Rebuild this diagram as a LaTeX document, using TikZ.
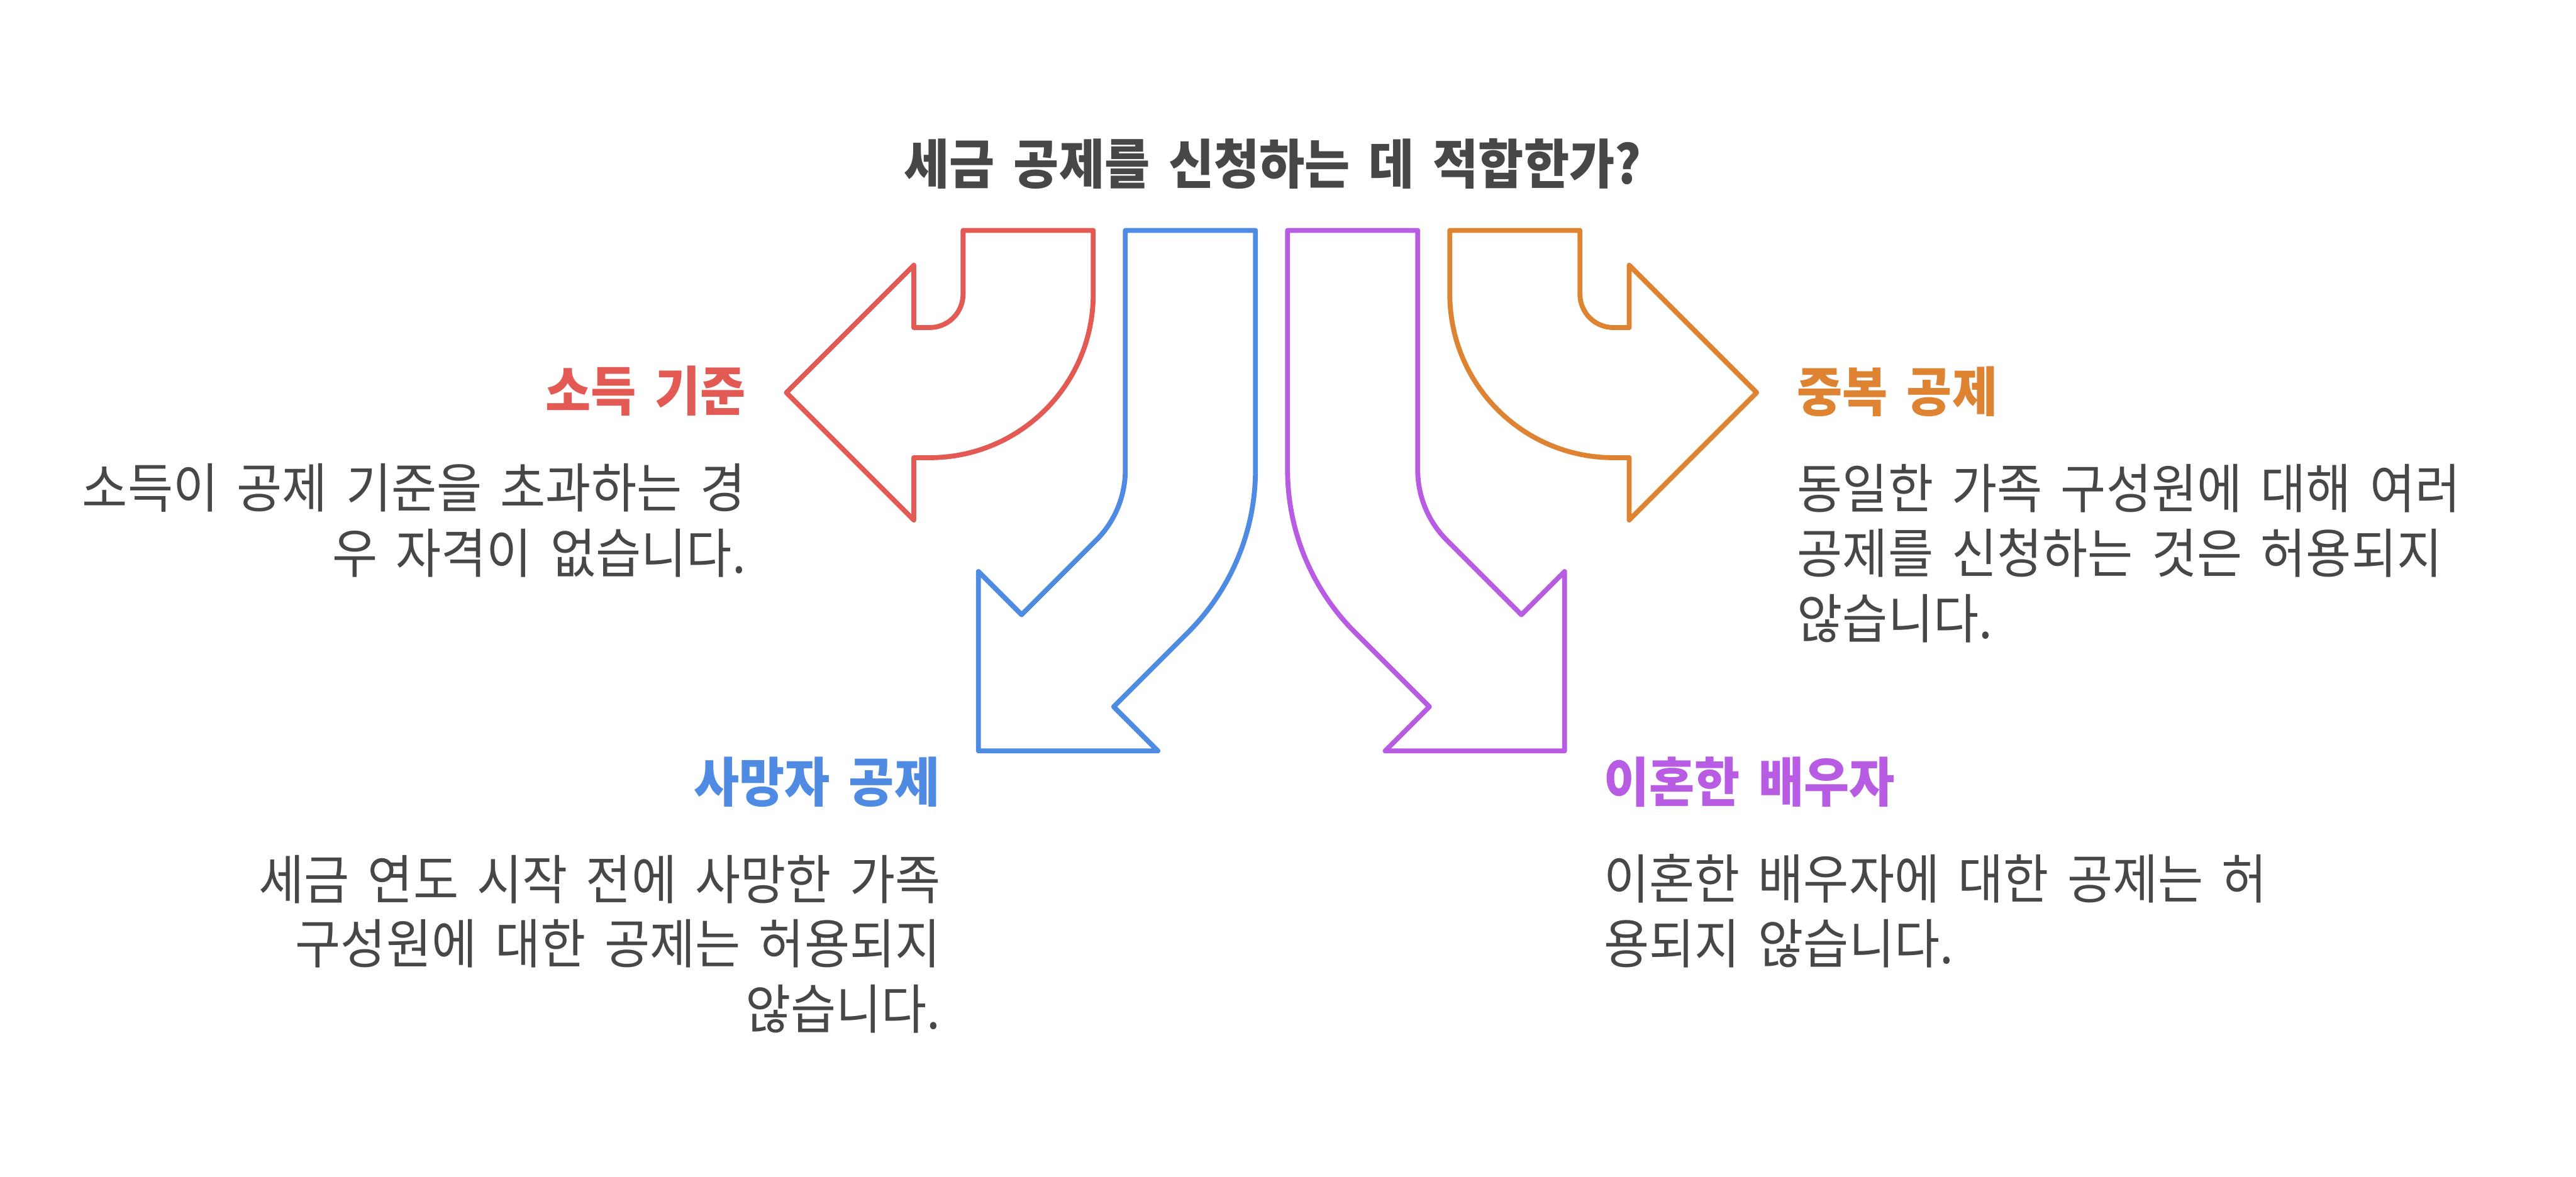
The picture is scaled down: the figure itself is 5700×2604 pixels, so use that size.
\documentclass[tikz,border=0pt]{standalone}
\usepackage{fontspec}
\setmainfont{Noto Sans CJK KR}[FakeStretch=0.924, WordSpace=1.66]
\definecolor{cred}{HTML}{E35A55}
\definecolor{cblue}{HTML}{4F8AE3}
\definecolor{cpurple}{HTML}{B85DE3}
\definecolor{corange}{HTML}{DD8331}
\definecolor{tgray}{HTML}{474747}
\tikzset{
  titletext/.style={font=\bfseries\fontsize{33.6pt}{40pt}\selectfont, text=tgray, inner sep=0pt},
  headtext/.style={font=\bfseries\fontsize{33.6pt}{40pt}\selectfont, inner sep=0pt},
  bodytext/.style={font=\fontsize{33.6pt}{40pt}\selectfont, text=tgray, inner sep=0pt},
  arrowshape/.style={line width=3.1pt, line join=round}
}
\begin{document}
\begin{tikzpicture}[x=0.01cm, y=-0.01cm]
\fill[white] (0,0) rectangle (5700,2604);
\useasboundingbox (0,0) rectangle (5700,2604);

% title
\node[titletext, anchor=base] (q) at (2816,407) {세금 공제를 신청하는 데 적합한가?};

% red arrow (left)
\draw[arrowshape, draw=cred] (2131,510) -- (2419,510) -- (2419,651)
  .. controls (2419,851) and (2257,1013) .. (2057,1013) -- (2022,1013) -- (2022,1151)
  -- (1740,869) -- (2022,587) -- (2022,725) -- (2057,725)
  .. controls (2098,725) and (2131,692) .. (2131,651) -- cycle;

% orange arrow (right)
\draw[arrowshape, draw=corange] (3496,510) -- (3208,510) -- (3208,651)
  .. controls (3208,851) and (3370,1013) .. (3570,1013) -- (3605,1013) -- (3605,1151)
  -- (3887,869) -- (3605,587) -- (3605,725) -- (3570,725)
  .. controls (3529,725) and (3496,692) .. (3496,651) -- cycle;

% blue arrow (down-left)
\draw[arrowshape, draw=cblue] (2490,510) -- (2778,510) -- (2778,1040)
  .. controls (2778,1174.7) and (2724.5,1303.9) .. (2629.2,1399.2) -- (2464.2,1564.2)
  -- (2562,1662) -- (2165,1662) -- (2165,1265) -- (2260.6,1360.6) -- (2425.6,1195.6)
  .. controls (2466.8,1154.4) and (2490,1098.3) .. (2490,1040) -- cycle;

% purple arrow (down-right)
\draw[arrowshape, draw=cpurple] (3137,510) -- (2849,510) -- (2849,1040)
  .. controls (2849,1174.7) and (2902.5,1303.9) .. (2997.8,1399.2) -- (3162.8,1564.2)
  -- (3065,1662) -- (3462,1662) -- (3462,1265) -- (3366.4,1360.6) -- (3201.4,1195.6)
  .. controls (3160.2,1154.4) and (3137,1098.3) .. (3137,1040) -- cycle;

% red texts
\node[headtext, text=cred, anchor=base east] (h1) at (1651,910) {소득 기준};
\node[bodytext, anchor=base east] (b1a) at (1651,1124) {소득이 공제 기준을 초과하는 경};
\node[bodytext, anchor=base east] (b1b) at (1651,1268) {우 자격이 없습니다.};

% orange texts
\node[headtext, text=corange, anchor=base west] (h2) at (3976,911) {중복 공제};
\node[bodytext, anchor=base west] (b2a) at (3976,1125) {동일한 가족 구성원에 대해 여러};
\node[bodytext, anchor=base west] (b2b) at (3976,1269) {공제를 신청하는 것은 허용되지};
\node[bodytext, anchor=base west] (b2c) at (3976,1413) {않습니다.};

% blue texts
\node[headtext, text=cblue, anchor=base east] (h3) at (2080,1775) {사망자 공제};
\node[bodytext, anchor=base east] (b3a) at (2082,1990) {세금 연도 시작 전에 사망한 가족};
\node[bodytext, anchor=base east] (b3b) at (2082,2133) {구성원에 대한 공제는 허용되지};
\node[bodytext, anchor=base east] (b3c) at (2082,2277) {않습니다.};

% purple texts
\node[headtext, text=cpurple, anchor=base west] (h4) at (3548,1775) {이혼한 배우자};
\node[bodytext, anchor=base west] (b4a) at (3548,1989) {이혼한 배우자에 대한 공제는 허};
\node[bodytext, anchor=base west] (b4b) at (3548,2133) {용되지 않습니다.};
\end{tikzpicture}
\end{document}
